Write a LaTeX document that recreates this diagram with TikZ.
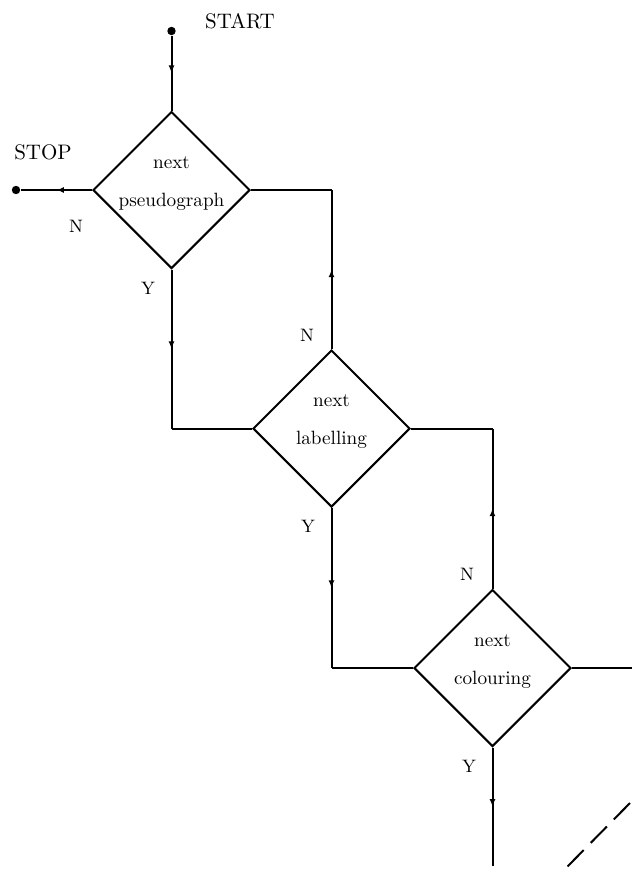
\documentclass[tikz,border=0pt]{standalone}
\usetikzlibrary{shapes.geometric,arrows.meta,decorations.markings}

\tikzset{
  x=0.5pt, y=-0.5pt,
  line/.style={line width=1pt},
  flow/.style={line width=1pt, postaction={decorate},
    decoration={markings, mark=at position 0.5 with {\arrow{Latex[length=3.8pt,width=3pt]}}}},
  test/.style={draw, line width=1pt, shape=diamond, aspect=1, inner sep=0pt,
    minimum width=78.5pt, minimum height=78.5pt},
  word/.style={anchor=base, inner sep=0pt, font=\fontsize{9.6}{11}\selectfont},
  term/.style={inner sep=0pt, font=\fontsize{10.5}{12}\selectfont},
  branch/.style={inner sep=0pt, font=\fontsize{9}{10}\selectfont},
  dot/.style={circle, fill=black, inner sep=0pt, minimum size=4.2pt}
}

\begin{document}
\begin{tikzpicture}
  \useasboundingbox (0,0) rectangle (632,873);

  % terminals
  \node[dot] (startdot) at (171.5,31) {};
  \node[term] (starttxt) at (240,21.5) {START};
  \node[dot] (stopdot) at (16,190) {};
  \node[term] (stoptxt) at (43,152.5) {STOP};

  % decision boxes
  \node[test] (d1) at (171.5,190) {};
  \node[test] (d2) at (331.5,428.5) {};
  \node[test] (d3) at (492.5,668) {};

  \node[word] (d1a) at ([yshift=11pt]d1.center) {next};
  \node[word] (d1b) at ([yshift=-8pt]d1.center) {pseudograph};
  \node[word] (d2a) at ([yshift=11pt]d2.center) {next};
  \node[word] (d2b) at ([yshift=-8pt]d2.center) {labelling};
  \node[word] (d3a) at ([yshift=11pt]d3.center) {next};
  \node[word] (d3b) at ([yshift=-8pt]d3.center) {colouring};

  % branch labels
  \node[branch] (n1) at (76,226) {N};
  \node[branch] (y1) at (148,288) {Y};
  \node[branch] (n2) at (307,335) {N};
  \node[branch] (y2) at (308,526) {Y};
  \node[branch] (n3) at (467,574) {N};
  \node[branch] (y3) at (469,766) {Y};

  % corner points of the loops
  \coordinate (c1) at (d2.north |- d1.east);
  \coordinate (c2) at (d1.south |- d2.west);
  \coordinate (c3) at (d3.north |- d2.east);
  \coordinate (c4) at (d2.south |- d3.west);
  \coordinate (e1) at (632,668);
  \coordinate (e2) at (d3.south |- 0,866);
  \coordinate (g1) at (630,803);
  \coordinate (g2) at (567,867);

  % connectors
  \draw[flow] (startdot) -- (d1.north);
  \draw[flow] (d1.west) -- (stopdot);
  \draw[flow] (d2.north) -- (c1);
  \draw[line] (c1) -- (d1.east);
  \draw[flow] (d1.south) -- (c2);
  \draw[line] (c2) -- (d2.west);
  \draw[flow] (d3.north) -- (c3);
  \draw[line] (c3) -- (d2.east);
  \draw[flow] (d2.south) -- (c4);
  \draw[line] (c4) -- (d3.west);
  \draw[line] (d3.east) -- (e1);
  \draw[flow] (d3.south) -- (e2);
  \draw[line, dash pattern=on 11.5pt off 5pt] (g1) -- (g2);
\end{tikzpicture}
\end{document}
